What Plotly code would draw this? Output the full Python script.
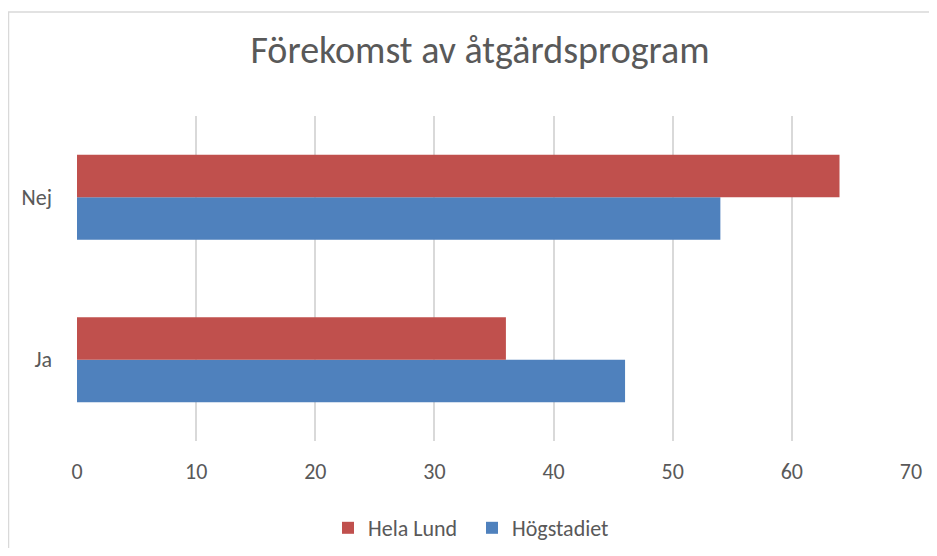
import plotly.graph_objects as go

categories = ["Ja", "Nej"]
hogstadiet = [46, 54]
hela_lund = [36, 64]
x_ticks = [0, 10, 20, 30, 40, 50, 60, 70]

FONT = "Calibri, Carlito, Lato, sans-serif"
TXT = "#595959"

fig = go.Figure()
fig.add_trace(go.Bar(y=categories, x=hogstadiet, orientation="h", name="Högstadiet",
                     marker=dict(color="#4F81BD", line=dict(width=0)), legendrank=2))
fig.add_trace(go.Bar(y=categories, x=hela_lund, orientation="h", name="Hela Lund",
                     marker=dict(color="#C0504D", line=dict(width=0)), legendrank=1))

# page has an 8px body margin: figure coords = page coords - 8
OFF = 8
W, H = 937 - 2 * OFF, 556 - 2 * OFF
L, R, T, B = 77 - OFF, 911 - OFF, 116 - OFF, 441 - OFF
pw, ph = R - L, B - T

def px_x(p):
    return (p - OFF - L) / pw

def px_y(p):
    return (B - (p - OFF)) / ph

fig.update_layout(
    width=W, height=H,
    margin=dict(l=L, r=W - R, t=T, b=H - B, autoexpand=False),
    paper_bgcolor="white", plot_bgcolor="white",
    barmode="group", bargap=0.477, bargroupgap=0,
    font=dict(family=FONT, color=TXT, size=22),
    title=dict(text="Förekomst av åtgärdsprogram", x=px_x(480), xref="paper", xanchor="center",
               y=1 - (50 - OFF) / H, yref="container", yanchor="middle",
               font=dict(size=38, color=TXT, family=FONT)),
    legend=dict(orientation="h", x=px_x(328), xanchor="left", y=px_y(528), yanchor="middle",
                font=dict(size=22, color=TXT, family=FONT), itemwidth=30, entrywidth=99,
                traceorder="normal"),
    xaxis=dict(range=[0, 70], tickvals=x_ticks, showgrid=True, gridcolor="#D9D9D9", gridwidth=1.5,
               zeroline=False, showline=False, ticks="", ticklabelstandoff=15,
               tickfont=dict(size=22, color=TXT)),
    yaxis=dict(showgrid=False, showline=False, ticks="", ticklabelstandoff=24,
               tickfont=dict(size=22, color=TXT)),
    shapes=[dict(type="rect", xref="paper", yref="paper",
                 x0=px_x(8.5), x1=px_x(960), y0=px_y(580), y1=px_y(12),
                 line=dict(color="#D9D9D9", width=1.5), fillcolor="rgba(0,0,0,0)", layer="below")],
)

fig.write_html("out.html")
